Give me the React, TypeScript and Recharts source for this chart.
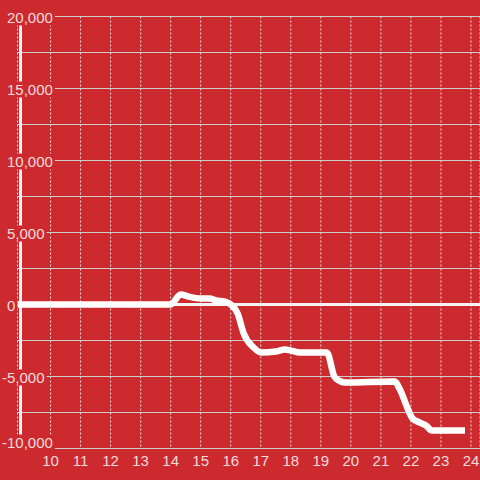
import React from 'react';
import { LineChart, Line, XAxis, YAxis, CartesianGrid, ReferenceLine } from 'recharts';

// hour of day vs running value
const hours = [8.9, 14.0, 14.33, 14.6, 15.0, 15.3, 15.5, 15.8, 16.0, 16.23, 16.43, 16.77, 17.0, 17.5, 17.8, 18.0, 18.3, 19.2, 19.45, 19.6, 19.8, 21.45, 21.65, 21.85, 22.05, 22.3, 22.5, 22.7, 23.8];
const values = [0, 0, 700, 550, 420, 420, 280, 200, 0, -625, -2000, -3000, -3330, -3260, -3130, -3200, -3330, -3330, -5000, -5280, -5420, -5350, -5970, -7010, -7900, -8200, -8400, -8750, -8750];
const xTicks = [10, 11, 12, 13, 14, 15, 16, 17, 18, 19, 20, 21, 22, 23, 24];
const yTicks = [-10000, -7500, -5000, -2500, 0, 2500, 5000, 7500, 10000, 12500, 15000, 17500, 20000];

const BG = '#cc2a2f';
const LABEL = '#f4dcdc';
const FONT = '"Liberation Sans", Arial, sans-serif';

const data = hours.map((h, i) => ({ h, v: values[i] }));

const fmt = (v: number) => v.toLocaleString('en-US');

// rough text width for 15px Liberation Sans
const textWidth = (s: string) =>
  s.split('').reduce((w, c) => w + (c === ',' ? 4.2 : c === '-' ? 5 : 8.34), 0);

const YTick = ({ y, payload }: any) => {
  const v = payload.value;
  if (v % 5000 !== 0) return null;
  const label = fmt(v);
  const tx = v < 0 ? 2 : 7;
  const cy = v === -10000 ? y - 6 : y + 1;
  const w = textWidth(label);
  return (
    <g>
      <rect x={tx - 2} y={cy - 8} width={w + 4} height={16} fill={BG} />
      <text x={tx} y={cy + 5} fill={LABEL} fontSize={15} fontFamily={FONT} textAnchor="start">
        {label}
      </text>
    </g>
  );
};

const XTick = ({ x, payload }: any) => (
  <text x={x} y={466} fill={LABEL} fontSize={15} fontFamily={FONT} textAnchor="middle">
    {payload.value}
  </text>
);

export default function App() {
  return (
    <div style={{ position: 'absolute', left: 0, top: 0, width: 480, height: 480, background: BG }}>
      <LineChart width={480} height={480} data={data} margin={{ top: 16.5, right: 0, bottom: 0, left: 0 }}>
        <CartesianGrid horizontal vertical={false} stroke="#cccccc" strokeWidth={1} />
        <CartesianGrid horizontal={false} vertical stroke="#e2e2e2" strokeDasharray="2 2" strokeWidth={1} />
        <ReferenceLine y={0} stroke="#f4f4f4" strokeWidth={3} />
        <ReferenceLine x={9} stroke="#f4f4f4" strokeWidth={3} />
        <Line
          type="monotone"
          dataKey="v"
          stroke="#ffffff"
          strokeWidth={6.5}
          strokeLinejoin="round"
          dot={false}
          isAnimationActive={false}
        />
        <XAxis
          dataKey="h"
          type="number"
          domain={[8.9, 24.3]}
          ticks={xTicks}
          allowDataOverflow
          axisLine={false}
          tickLine={false}
          height={31.5}
          tick={<XTick />}
          interval={0}
        />
        <YAxis
          type="number"
          domain={[-10000, 20000]}
          ticks={yTicks}
          axisLine={false}
          tickLine={false}
          width={17.5}
          tick={<YTick />}
          interval={0}
        />
      </LineChart>
    </div>
  );
}
